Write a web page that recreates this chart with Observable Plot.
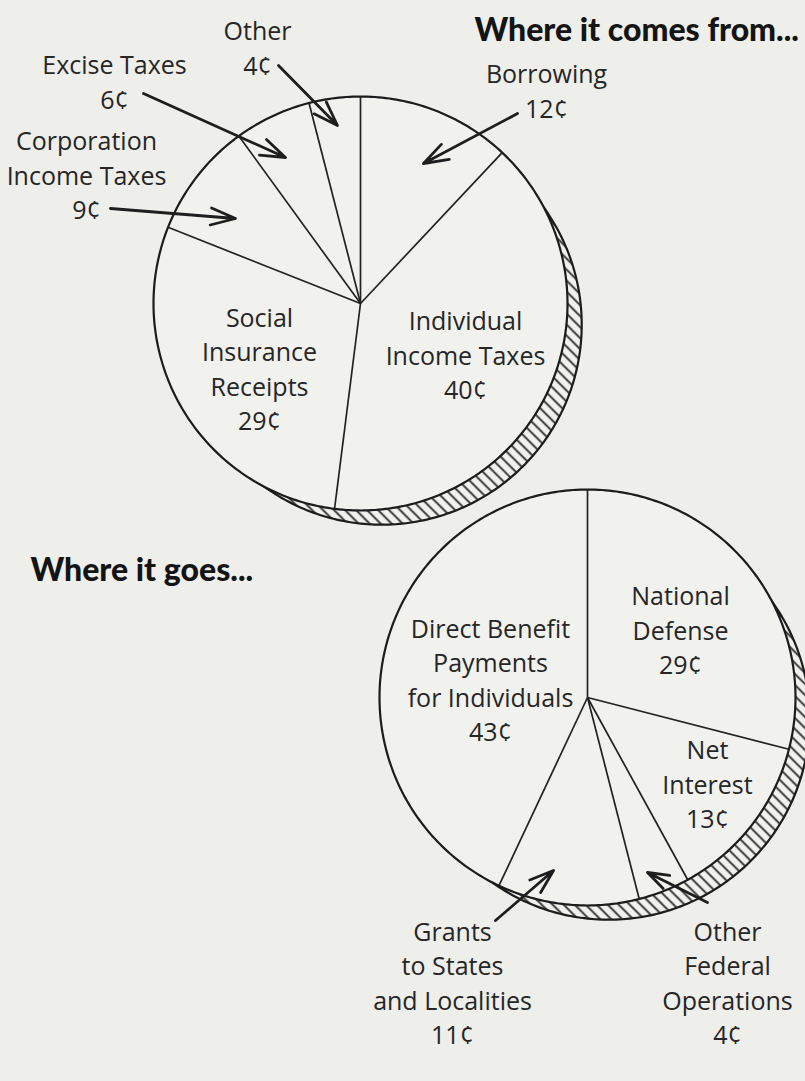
<!DOCTYPE html>
<html><head><meta charset="utf-8">
<script src="https://cdn.jsdelivr.net/npm/d3@7"></script>
<script src="https://cdn.jsdelivr.net/npm/@observablehq/plot@0.6"></script>
<style>
html,body{margin:0;padding:0;background:#eeeeea;}
#chart{width:805px;height:1081px;overflow:hidden;}
</style></head><body><div id="chart"></div>
<script>
// ---- Data ----
const sourceCategories = ["Borrowing", "Individual Income Taxes", "Social Insurance Receipts", "Corporation Income Taxes", "Excise Taxes", "Other"];
const sourceValues = [12, 40, 29, 9, 6, 4];
const sourceLabelLines = [["Borrowing"], ["Individual", "Income Taxes"], ["Social", "Insurance", "Receipts"], ["Corporation", "Income Taxes"], ["Excise Taxes"], ["Other"]];

const useCategories = ["National Defense", "Net Interest", "Other Federal Operations", "Grants to States and Localities", "Direct Benefit Payments for Individuals"];
const useValues = [29, 13, 4, 11, 43];
const useLabelLines = [["National", "Defense"], ["Net", "Interest"], ["Other", "Federal", "Operations"], ["Grants", "to States", "and Localities"], ["Direct Benefit", "Payments", "for Individuals"]];

const titles = ["Where it comes from...", "Where it goes..."];

// ---- Layout ----
const W = 805, H = 1081;
const sourceLayout = {cx: 360, cy: 303, r: 207,
  labels: [
    {x: 546, y: 89, arrow: [517, 113, 423, 163]},
    {x: 465, y: 353},
    {x: 259, y: 367},
    {x: 86, y: 173, arrow: [110, 208, 235, 218]},
    {x: 114, y: 80, arrow: [143, 93, 285, 157]},
    {x: 257, y: 46, arrow: [278, 65, 337, 125]}
  ]};
const useLayout = {cx: 587, cy: 697, r: 208,
  labels: [
    {x: 680, y: 628},
    {x: 707, y: 782},
    {x: 727, y: 981, arrow: [707, 902, 647, 872]},
    {x: 452, y: 981, arrow: [495, 920, 553, 870]},
    {x: 490, y: 678}
  ]};
const titleLayout = [{x: 474, y: 40}, {x: 30, y: 580}];
const shadow = {d: 30, dir: Math.PI * 0.75, dr: -7};

function ring(cx, cy, r, n = 360) {
  return d3.range(n + 1).map(i => {
    const a = 2 * Math.PI * i / n;
    return {x: cx + r * Math.sin(a), y: cy - r * Math.cos(a)};
  });
}

function pieMarks(categories, values, lines, layout) {
  const {cx, cy, r} = layout;
  const arcs = d3.pie().sort(null).value(d => d)(values);
  const spokes = arcs.map(a => ({x1: cx, y1: cy, x2: cx + r * Math.sin(a.startAngle), y2: cy - r * Math.cos(a.startAngle)}));
  const sx = cx + shadow.d * Math.sin(shadow.dir), sy = cy - shadow.d * Math.cos(shadow.dir);
  const labels = categories.map((c, i) => ({
    text: [...lines[i], `${values[i]}¢`].join("\n"),
    x: layout.labels[i].x, y: layout.labels[i].y
  }));
  const arrows = layout.labels.filter(l => l.arrow).map(l => ({x1: l.arrow[0], y1: l.arrow[1], x2: l.arrow[2], y2: l.arrow[3]}));
  return [
    Plot.line(ring(sx, sy, r + shadow.dr), {x: "x", y: "y", fill: "url(#hatch)", stroke: "#1c1c1c", strokeWidth: 2.2}),
    Plot.line(ring(cx, cy, r), {x: "x", y: "y", fill: "#f1f1ee", stroke: "#1c1c1c", strokeWidth: 2.2}),
    Plot.link(spokes, {x1: "x1", y1: "y1", x2: "x2", y2: "y2", stroke: "#222", strokeWidth: 1.7}),
    Plot.text(labels, {x: "x", y: "y", text: "text", fontSize: 25, lineHeight: 1.38, lineAnchor: "middle", textAnchor: "middle", fill: "#262626", fontFamily: "Open Sans"}),
    Plot.arrow(arrows, {x1: "x1", y1: "y1", x2: "x2", y2: "y2", stroke: "#1e1e1e", strokeWidth: 2.8, headLength: 14, headAngle: 38})
  ];
}

const titleData = titles.map((t, i) => ({text: t, x: titleLayout[i].x, y: titleLayout[i].y}));

const svg = Plot.plot({
  width: W, height: H, margin: 0,
  x: {domain: [0, W], range: [0, W], axis: null},
  y: {domain: [0, H], range: [0, H], axis: null},
  style: {background: "transparent", fontFamily: "Open Sans"},
  marks: [
    ...pieMarks(sourceCategories, sourceValues, sourceLabelLines, sourceLayout),
    ...pieMarks(useCategories, useValues, useLabelLines, useLayout),
    Plot.text(titleData, {x: "x", y: "y", text: "text", textAnchor: "start", lineAnchor: "bottom", fontSize: 32, fontWeight: 900, fontFamily: "Lato", letterSpacing: "-1.6px", fill: "#141414"})
  ]
});

// hatch pattern definition
const ns = "http://www.w3.org/2000/svg";
const defs = document.createElementNS(ns, "defs");
const pat = document.createElementNS(ns, "pattern");
pat.setAttribute("id", "hatch");
pat.setAttribute("patternUnits", "userSpaceOnUse");
pat.setAttribute("width", "11");
pat.setAttribute("height", "11");
const bg = document.createElementNS(ns, "rect");
bg.setAttribute("width", "11"); bg.setAttribute("height", "11"); bg.setAttribute("fill", "#f1f1ee");
pat.appendChild(bg);
const p = document.createElementNS(ns, "path");
p.setAttribute("d", "M-2,-2L13,13M-2,9L2,13M9,-2L13,2");
p.setAttribute("stroke", "#222");
p.setAttribute("stroke-width", "1.7");
pat.appendChild(p);
defs.appendChild(pat);
svg.insertBefore(defs, svg.firstChild);

document.getElementById("chart").appendChild(svg);
</script></body></html>
